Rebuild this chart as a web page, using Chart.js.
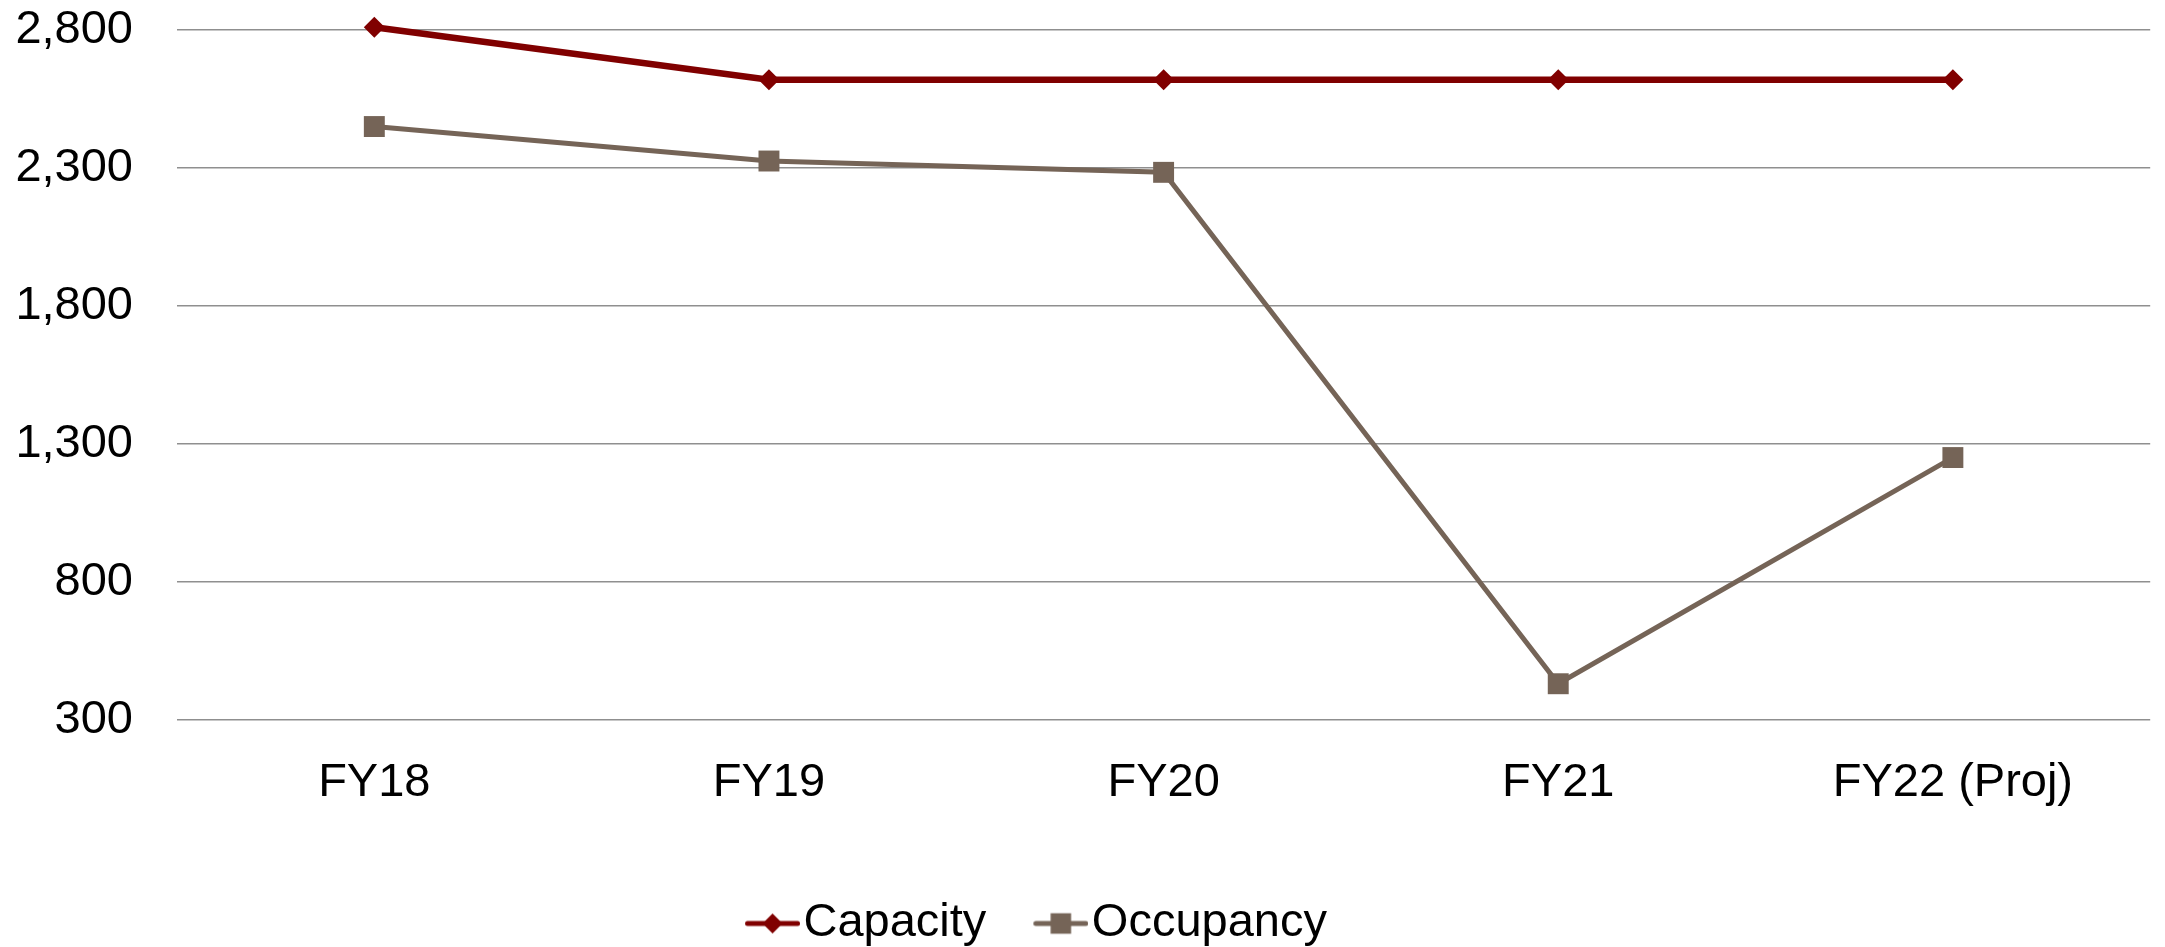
<!DOCTYPE html>
<html>
<head>
<meta charset="utf-8">
<script src="https://cdn.jsdelivr.net/npm/chart.js@4.4.1/dist/chart.umd.min.js"></script>
<style>
  html, body { margin: 0; padding: 0; background: #ffffff; overflow: hidden; }
  #wrap { width: 2165px; height: 947px; }
  canvas { display: block; }
</style>
</head>
<body>
<div id="wrap"><canvas id="chart" width="2165" height="947"></canvas></div>
<script>
// Fiscal years on the category axis
const categories = ['FY18', 'FY19', 'FY20', 'FY21', 'FY22 (Proj)'];
// Series values
const capacity  = [2810, 2620, 2620, 2620, 2620];
const occupancy = [2450, 2325, 2284, 430, 1250];
// Value-axis tick marks
const yTicks = [300, 800, 1300, 1800, 2300, 2800];

const CAPACITY_COLOR  = '#800000';
const OCCUPANCY_COLOR = '#756457';
const FONT = { family: "'Liberation Sans', Arial, sans-serif", size: 47 };

// Legend swatch: a short line with the series marker on it.
// The drawn part sits at the right of the image so it runs close to the label text.
function legendSwatch(color, style, lineWidth, radius) {
  const W = 95, H = 32, x0 = 40, x1 = 95, cy = H / 2;
  const cv = document.createElement('canvas');
  cv.width = W; cv.height = H;
  const g = cv.getContext('2d');
  g.strokeStyle = color;
  g.lineWidth = lineWidth;
  g.lineCap = 'round';
  g.beginPath();
  g.moveTo(x0 + lineWidth / 2, cy);
  g.lineTo(x1 - lineWidth / 2, cy);
  g.stroke();
  g.fillStyle = color;
  Chart.helpers.drawPoint(g, { pointStyle: style, radius: radius, borderWidth: 0, rotation: 0 }, (x0 + x1) / 2, cy);
  return cv;
}

const swatches = [
  legendSwatch(CAPACITY_COLOR, 'rectRot', 5, 10),
  legendSwatch(OCCUPANCY_COLOR, 'rect', 5, 14.5)
];

// Places the legend row slightly left of centre and a little lower.
const legendShift = {
  id: 'legendShift',
  afterLayout(chart) {
    const lg = chart.legend;
    if (!lg) return;
    lg.left -= 57;
    lg.right -= 57;
    lg.top += 12;
    lg.bottom += 12;
  }
};

new Chart(document.getElementById('chart'), {
  type: 'line',
  data: {
    labels: categories,
    datasets: [
      {
        label: 'Capacity',
        data: capacity,
        borderColor: CAPACITY_COLOR,
        backgroundColor: CAPACITY_COLOR,
        borderWidth: 6.5,
        pointStyle: 'rectRot',
        pointRadius: 10.5,
        pointBorderWidth: 0,
        pointHoverRadius: 10.5,
        tension: 0,
        clip: false
      },
      {
        label: 'Occupancy',
        data: occupancy,
        borderColor: OCCUPANCY_COLOR,
        backgroundColor: OCCUPANCY_COLOR,
        borderWidth: 5,
        pointStyle: 'rect',
        pointRadius: 14.8,
        pointBorderWidth: 0,
        pointHoverRadius: 14.8,
        tension: 0,
        clip: false
      }
    ]
  },
  options: {
    responsive: false,
    animation: false,
    devicePixelRatio: 1,
    layout: { padding: { top: 30, right: 13, left: 14, bottom: 2 } },
    scales: {
      x: {
        offset: true,
        grid: { display: false, drawTicks: false },
        border: { display: false },
        ticks: { color: '#000000', font: FONT, padding: 35, maxRotation: 0 },
        afterFit(scale) { scale.height += 15; }
      },
      y: {
        min: 300,
        max: 2800,
        afterBuildTicks(scale) { scale.ticks = yTicks.map(v => ({ value: v })); },
        afterFit(scale) {
          scale.width = 163;
          scale.paddingTop = 0;
          scale.paddingBottom = 0;
        },
        grid: { color: '#8f8f8f', lineWidth: 1.6, drawTicks: false },
        border: { display: false },
        ticks: {
          color: '#000000',
          font: FONT,
          padding: 44,
          callback: v => v.toLocaleString('en-US')
        }
      }
    },
    plugins: {
      tooltip: { enabled: false },
      legend: {
        position: 'bottom',
        align: 'center',
        labels: {
          color: '#000000',
          font: FONT,
          usePointStyle: true,
          pointStyleWidth: 55,
          padding: 27,
          generateLabels(chart) {
            return chart.data.datasets.map((ds, i) => ({
              text: ds.label,
              fillStyle: ds.borderColor,
              strokeStyle: ds.borderColor,
              lineWidth: 0,
              pointStyle: swatches[i],
              hidden: false,
              datasetIndex: i,
              fontColor: '#000000'
            }));
          }
        }
      }
    }
  },
  plugins: [legendShift]
});
</script>
</body>
</html>
